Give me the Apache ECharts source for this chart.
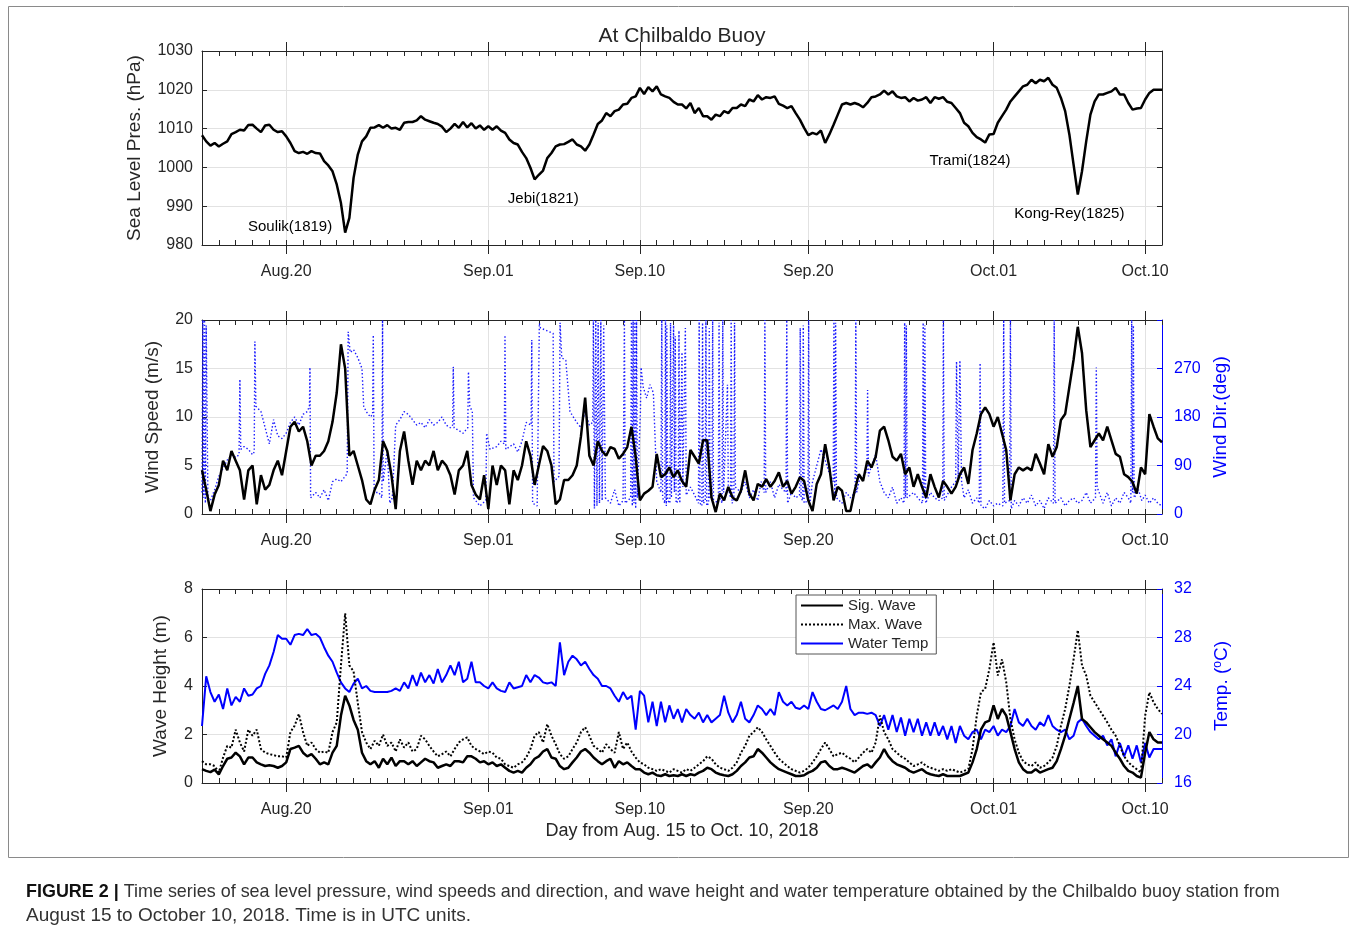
<!DOCTYPE html>
<html><head><meta charset="utf-8">
<script src="https://cdn.jsdelivr.net/npm/echarts@6/dist/echarts.min.js"></script>
<style>html,body{margin:0;padding:0;background:#fff}#c{width:1354px;height:934px}</style>
</head><body><div id="c"></div>
<script>
// ---- data (days since Aug 15 2018 00 UTC, one value every dayStep days) ----
const dayStep = 0.25;
const majorTickDays = [5, 17, 26, 36, 47, 56];
const majorTickLabels = ['Aug.20', 'Sep.01', 'Sep.10', 'Sep.20', 'Oct.01', 'Oct.10'];

const pressure = [
1008.3,1006.7,1005.6,1006.3,1005.4,1006.1,1006.7,1008.6,
1009.1,1009.7,1009.5,1010.9,1011.0,1010.0,1009.1,1010.8,
1011.0,1009.7,1009.1,1009.3,1008.0,1006.3,1004.2,1003.7,
1004.0,1003.5,1004.2,1003.7,1003.6,1001.6,1000.5,999.0,
995.6,990.8,983.2,987.0,997.3,1003.3,1006.7,1008.0,
1010.2,1010.3,1010.9,1010.2,1010.9,1010.0,1010.2,1009.7,
1011.5,1011.7,1011.7,1012.1,1013.2,1012.3,1011.9,1011.5,
1011.2,1010.5,1009.1,1010.0,1011.2,1010.2,1011.7,1010.3,
1011.4,1010.0,1010.8,1009.7,1010.6,1009.7,1010.6,1009.5,
1008.9,1007.2,1006.3,1005.9,1004.0,1002.4,999.9,996.9,
998.1,999.2,1002.4,1003.7,1005.4,1005.9,1006.0,1006.6,
1007.2,1005.9,1005.4,1004.3,1005.9,1008.5,1011.2,1012.1,
1014.0,1013.2,1014.5,1014.9,1016.2,1016.4,1017.9,1018.3,
1020.5,1018.9,1020.7,1019.6,1020.9,1018.8,1018.3,1017.9,
1016.9,1016.2,1016.2,1015.2,1016.6,1014.0,1015.3,1013.2,
1013.2,1012.3,1013.6,1013.2,1014.5,1014.0,1015.3,1015.3,
1016.2,1015.8,1017.5,1017.0,1018.6,1017.5,1018.1,1017.9,
1018.3,1016.4,1015.9,1015.3,1015.8,1014.0,1012.3,1010.2,
1008.3,1008.9,1008.5,1009.5,1006.3,1008.5,1011.0,1013.6,
1016.2,1016.6,1016.2,1016.6,1016.2,1015.5,1016.6,1018.1,
1018.3,1018.8,1019.8,1018.8,1019.6,1018.3,1017.9,1018.1,
1017.0,1017.9,1017.2,1017.5,1018.1,1016.6,1018.1,1017.7,
1018.1,1016.9,1016.6,1015.3,1014.0,1011.5,1010.6,1008.9,
1007.8,1007.2,1006.4,1008.5,1008.6,1011.5,1013.2,1014.9,
1017.0,1018.3,1019.6,1020.9,1021.3,1022.6,1021.7,1022.6,
1022.2,1023.1,1021.3,1020.5,1017.9,1014.5,1008.5,1000.7,
993.0,999.0,1006.7,1013.6,1017.0,1018.8,1018.8,1019.2,
1019.6,1020.5,1018.8,1018.8,1016.6,1014.9,1015.2,1015.3,
1017.5,1019.2,1020.0,1020.0,1020.0
];

const windSpeed = [
4.5,2.5,0.3,2.0,3.0,5.5,4.5,6.5,
5.5,4.5,1.5,4.5,5.0,1.0,4.0,2.5,
3.0,4.5,5.5,4.0,6.5,9.0,9.5,8.5,
9.0,7.5,5.0,6.0,6.0,6.5,7.5,9.5,
12.5,17.5,15.0,6.0,6.5,5.0,3.5,1.5,
1.0,2.5,3.5,7.5,6.5,4.0,0.5,6.5,
8.5,5.5,3.0,5.5,4.5,5.5,5.0,6.5,
4.5,5.5,5.0,4.0,2.0,4.5,5.0,6.5,
3.0,2.0,1.5,4.0,0.5,5.0,3.0,5.0,
4.5,1.0,4.5,3.5,5.0,7.5,6.0,3.0,
5.0,7.0,6.5,5.0,1.0,1.5,3.5,3.5,
4.0,5.0,8.0,12.0,6.0,5.0,7.5,6.5,
6.0,6.9,6.7,5.7,6.2,6.9,9.0,5.9,
1.4,2.1,2.4,2.8,6.2,3.8,4.1,4.8,
3.8,4.5,3.4,2.8,6.6,5.9,5.2,7.6,
7.6,1.7,0.2,2.1,1.4,2.8,1.7,1.4,
2.4,4.5,2.1,1.4,3.1,2.8,3.6,2.8,
3.4,4.3,2.8,3.4,2.1,2.8,3.8,3.4,
1.4,0.3,3.1,4.1,7.2,4.8,1.4,2.8,
2.4,0.3,0.3,2.4,4.1,3.4,5.5,4.8,
5.9,8.6,9.0,7.6,5.9,5.5,6.2,4.1,
4.8,2.8,4.1,2.8,1.7,4.1,2.8,1.7,
3.4,2.8,2.1,2.8,4.1,4.8,3.1,6.6,
8.3,10.3,11.0,10.3,9.0,10.0,8.3,6.6,
1.4,4.1,4.8,4.5,4.8,4.5,6.2,5.2,
4.1,7.2,5.9,6.9,9.7,10.3,13.1,15.9,
19.3,16.6,10.7,6.9,7.6,8.3,7.6,9.0,
7.6,6.2,5.9,4.1,3.8,3.3,2.1,4.8,
4.1,10.3,9.0,7.8,7.4
];

// wind direction readings: [day, degrees] (irregular times so the 0/360 wrap spikes stay thin)
const windDirReadings = [
[0.0,40],[0.05,360],[0.1,30],[0.15,360],[0.2,20],[0.25,350],[0.35,30],[0.5,25],[0.75,45],[1.0,70],
[1.25,85],[1.5,100],[1.75,110],[2.0,105],[2.2,110],[2.25,250],[2.3,120],[2.5,125],[2.75,120],[3.0,110],
[3.1,115],[3.14,320],[3.2,200],[3.5,190],[3.75,160],[4.0,130],[4.25,175],[4.5,145],[4.75,140],[5.0,150],
[5.25,170],[5.5,180],[5.75,165],[6.0,185],[6.25,190],[6.38,200],[6.41,272],[6.45,30],[6.75,40],[7.0,30],
[7.25,45],[7.5,25],[7.75,60],[8.0,65],[8.25,60],[8.5,70],[8.62,75],[8.68,338],[8.8,300],[9.0,305],
[9.25,290],[9.5,270],[9.6,200],[9.75,190],[10.0,180],[10.13,185],[10.17,332],[10.22,40],[10.5,40],[10.68,30],
[10.72,360],[10.76,60],[11.0,120],[11.15,20],[11.3,30],[11.5,165],[11.75,175],[12.0,190],[12.25,185],[12.5,175],
[12.75,165],[13.0,170],[13.25,160],[13.5,175],[13.75,165],[14.0,170],[14.25,180],[14.5,165],[14.75,160],[14.88,165],
[14.92,273],[14.97,160],[15.25,155],[15.5,150],[15.78,160],[15.82,264],[15.9,200],[16.05,190],[16.12,30],[16.5,15],
[16.85,25],[16.9,150],[17.1,120],[17.5,125],[17.75,135],[17.95,130],[17.99,332],[18.04,120],[18.5,130],[18.75,115],
[19.0,135],[19.25,170],[19.54,165],[19.58,323],[19.63,20],[19.9,15],[20.03,354],[20.1,345],[20.5,340],[20.85,335],
[20.9,60],[21.2,70],[21.26,355],[21.36,290],[21.6,285],[21.85,190],[22.25,170],[22.5,160],[22.75,190],[23.0,165],
[23.2,170],[23.24,360],[23.3,10],[23.38,360],[23.45,15],[23.52,355],[23.6,20],[23.68,360],[23.76,25],[23.85,350],
[23.95,30],[24.25,20],[24.5,45],[24.75,15],[25.0,25],[25.08,360],[25.13,20],[25.45,30],[25.5,360],[25.55,15],
[25.6,360],[25.65,20],[25.7,360],[25.75,10],[25.8,360],[25.85,30],[26.03,190],[26.07,272],[26.2,235],[26.4,215],
[26.6,240],[26.8,225],[27.0,60],[27.25,40],[27.3,360],[27.35,30],[27.48,20],[27.52,360],[27.57,15],[27.6,350],
[27.65,25],[27.78,20],[27.82,355],[27.87,30],[28.0,350],[28.05,40],[28.1,330],[28.15,20],[28.28,25],[28.32,340],
[28.37,20],[28.5,300],[28.55,50],[28.7,345],[28.75,35],[29.0,50],[29.25,35],[29.48,20],[29.52,360],[29.57,20],
[29.68,15],[29.72,355],[29.77,20],[29.88,25],[29.92,360],[29.97,15],[30.08,20],[30.12,345],[30.17,30],[30.28,25],
[30.32,360],[30.37,20],[30.66,25],[30.7,355],[30.75,30],[30.88,20],[30.92,360],[30.97,40],[31.2,240],[31.25,50],
[31.38,30],[31.42,360],[31.47,20],[31.58,25],[31.62,355],[31.67,50],[32.0,40],[32.25,60],[32.5,30],[32.75,45],
[33.0,25],[33.2,60],[33.38,40],[33.42,360],[33.47,40],[33.75,60],[34.0,30],[34.25,55],[34.5,45],[34.68,40],
[34.72,360],[34.77,20],[35.0,40],[35.25,30],[35.48,35],[35.52,345],[35.57,30],[35.66,25],[35.7,350],[35.75,20],
[35.98,25],[36.02,360],[36.07,15],[36.25,60],[36.5,90],[36.75,120],[37.0,100],[37.2,80],[37.48,60],[37.52,360],
[37.57,30],[37.62,355],[37.67,30],[38.0,20],[38.25,40],[38.5,30],[38.78,40],[38.82,360],[38.87,40],[39.0,60],
[39.25,70],[39.48,80],[39.52,230],[39.57,70],[39.75,90],[40.0,110],[40.25,60],[40.5,40],[40.75,30],[41.0,50],
[41.25,20],[41.5,30],[41.68,20],[41.72,355],[41.77,30],[41.82,350],[41.87,30],[42.25,40],[42.5,30],[42.78,20],
[42.82,355],[42.87,30],[42.92,350],[42.97,20],[43.25,40],[43.5,30],[43.75,25],[43.98,30],[44.02,360],[44.07,25],
[44.5,50],[44.75,60],[44.8,283],[44.9,60],[45.0,285],[45.1,60],[45.25,30],[45.5,45],[45.75,20],[46.0,30],
[46.15,20],[46.2,280],[46.25,15],[46.5,10],[46.75,25],[47.0,15],[47.25,20],[47.55,15],[47.6,360],[47.65,20],
[47.95,25],[48.0,360],[48.05,10],[48.25,25],[48.5,15],[48.75,30],[49.0,20],[49.25,35],[49.5,15],[49.75,25],
[50.0,10],[50.25,30],[50.55,20],[50.6,360],[50.65,20],[51.0,30],[51.25,15],[51.5,25],[51.75,30],[52.0,20],
[52.25,25],[52.5,40],[52.75,20],[53.05,30],[53.1,272],[53.15,50],[53.5,20],[53.75,40],[54.0,15],[54.25,30],
[54.5,20],[54.75,40],[55.0,30],[55.15,20],[55.2,360],[55.25,40],[55.3,350],[55.35,30],[55.6,45],[55.8,25],
[56.0,35],[56.25,20],[56.5,30],[56.75,20],[57.0,15]
];

const sigWave = [
0.57,0.5,0.45,0.55,0.35,0.7,1.0,1.05,
1.25,1.1,0.77,1.05,1.05,0.85,0.77,0.7,
0.73,0.7,0.63,0.7,0.85,1.4,1.46,1.53,
1.25,1.1,1.19,1.0,0.77,0.85,0.77,1.25,
1.53,2.78,3.6,3.2,2.6,2.2,1.25,0.9,
0.77,0.9,0.63,1.0,0.77,1.05,0.7,0.9,
0.9,0.77,0.9,0.7,0.85,1.0,0.9,0.85,
0.63,0.7,0.77,0.7,0.9,0.9,0.85,1.1,
1.1,1.0,0.85,0.9,0.77,0.85,0.7,0.77,
0.63,0.5,0.43,0.5,0.43,0.63,0.77,1.0,
1.1,1.3,1.4,1.05,1.0,0.7,0.57,0.63,
0.85,1.05,1.3,1.4,1.25,1.05,0.9,0.77,
0.9,1.0,0.63,0.9,0.77,0.85,0.7,0.57,
0.57,0.43,0.36,0.43,0.32,0.29,0.36,0.29,
0.32,0.29,0.36,0.29,0.36,0.32,0.43,0.5,
0.63,0.57,0.43,0.36,0.32,0.29,0.36,0.5,
0.7,0.85,1.05,1.1,1.4,1.25,1.05,0.85,
0.7,0.57,0.5,0.43,0.36,0.29,0.29,0.32,
0.43,0.5,0.63,0.85,0.9,0.7,0.57,0.57,
0.63,0.57,0.5,0.43,0.57,0.7,0.77,0.63,
0.85,1.05,1.4,1.1,0.9,0.77,0.7,0.63,
0.5,0.43,0.5,0.57,0.43,0.36,0.32,0.29,
0.36,0.29,0.29,0.29,0.29,0.36,0.43,0.85,
1.4,2.2,2.5,2.57,3.2,2.64,3.05,2.78,
2.1,1.4,0.85,0.57,0.43,0.43,0.57,0.43,
0.5,0.57,0.63,0.9,1.4,1.95,2.64,3.3,
4.0,2.64,2.5,2.3,2.1,1.95,1.8,1.67,
1.53,1.25,1.0,0.7,0.5,0.43,0.29,0.22,
1.25,2.1,1.8,1.67,1.67
];

const maxWave = [
0.9,0.77,0.77,0.7,0.43,1.05,1.53,1.46,
2.2,1.67,1.3,2.2,1.95,2.2,1.4,1.25,
1.19,1.15,1.1,1.1,1.05,2.1,2.36,2.85,
2.1,1.53,1.67,1.4,1.25,1.3,1.25,2.1,
2.5,4.85,7.0,4.85,4.6,3.3,2.1,1.67,
1.4,1.74,1.53,2.0,1.53,1.67,1.3,1.8,
1.46,1.67,1.3,1.4,1.95,1.8,1.53,1.3,
1.1,1.19,1.3,1.1,1.4,1.67,1.8,1.88,
1.53,1.4,1.3,1.19,1.3,1.25,1.05,1.0,
0.77,0.7,0.63,0.77,0.85,1.05,1.4,1.95,
2.1,1.67,2.43,1.95,1.6,1.19,1.0,1.1,
1.4,1.67,2.1,2.3,1.95,1.53,1.4,1.25,
1.6,1.4,1.25,2.1,1.4,1.67,1.3,1.05,
0.85,0.77,0.63,0.57,0.5,0.57,0.5,0.43,
0.57,0.5,0.43,0.57,0.5,0.63,0.77,0.9,
1.1,1.0,0.77,0.63,0.57,0.5,0.63,0.85,
1.25,1.53,1.95,2.1,2.3,2.1,1.8,1.53,
1.25,1.0,0.85,0.7,0.57,0.5,0.43,0.5,
0.63,0.85,1.1,1.4,1.67,1.4,1.1,1.19,
1.25,1.1,1.0,0.85,1.05,1.25,1.4,1.25,
1.67,2.78,2.1,1.8,1.4,1.25,1.1,1.0,
0.85,0.7,0.77,0.85,0.7,0.63,0.57,0.5,
0.57,0.5,0.57,0.5,0.43,0.5,0.57,1.4,
2.78,3.74,3.88,4.7,5.8,4.43,5.1,4.16,
2.64,1.8,1.25,0.9,0.77,0.7,0.85,0.63,
0.7,0.85,1.05,1.53,2.36,3.05,4.0,5.1,
6.3,4.85,4.43,3.6,3.33,3.05,2.78,2.5,
2.2,1.95,1.53,1.1,0.85,0.7,0.57,0.43,
2.78,3.74,3.33,3.05,2.85
];

const waterTemp = [
20.7,24.8,23.5,22.7,23.3,22.1,23.8,22.4,
23.1,22.7,23.8,23.2,23.3,23.8,24.0,25.0,
25.7,26.8,28.2,27.9,27.9,27.4,28.2,28.3,
28.2,28.7,28.2,28.3,28.0,27.2,26.5,26.0,
25.1,24.3,23.8,23.5,24.2,24.6,23.8,24.0,
23.6,23.5,23.5,23.5,23.5,23.6,23.8,23.6,
24.3,23.8,24.9,24.0,25.1,24.3,24.9,24.2,
25.4,24.3,24.9,25.7,24.9,26.0,24.3,24.6,
26.0,24.3,24.3,24.0,23.8,24.3,23.8,23.6,
23.5,24.3,23.8,23.9,24.0,24.9,24.3,24.9,
24.7,24.3,24.2,24.3,24.0,27.6,24.9,26.0,
26.5,26.2,25.7,26.0,25.4,24.9,24.6,24.0,
24.0,23.8,23.2,22.7,23.5,22.9,23.2,20.4,
23.6,23.2,21.0,22.7,20.7,22.7,21.0,22.4,
21.3,22.1,21.0,22.1,21.6,21.3,21.8,21.0,
21.6,21.0,21.3,21.6,23.2,21.8,21.0,21.6,
22.7,21.3,21.0,21.6,22.4,22.1,21.6,22.1,
21.6,23.5,22.7,22.4,22.7,22.2,22.1,22.4,
22.1,23.5,22.7,22.1,22.0,22.2,22.4,22.1,
22.7,24.0,22.1,21.6,21.8,21.8,21.7,21.8,
21.6,20.7,21.6,20.4,21.6,20.2,21.4,19.9,
21.3,20.2,21.3,19.9,21.0,19.9,21.0,19.9,
20.7,19.6,20.7,19.3,20.7,19.9,19.6,20.2,
20.4,19.6,20.4,20.2,20.7,19.9,20.4,20.2,
20.7,22.1,21.0,20.7,21.3,20.7,20.4,21.0,
20.7,21.6,20.7,20.4,20.2,20.4,19.6,19.9,
21.0,21.3,20.7,20.2,19.9,19.6,19.9,19.1,
19.6,18.2,19.3,18.2,19.1,18.0,19.1,17.7,
19.3,18.1,18.8,18.8,18.8
];

const typhoonLabels = ['Soulik(1819)', 'Jebi(1821)', 'Trami(1824)', 'Kong-Rey(1825)'];
const typhoonLabelDay = [5.23, 20.26, 45.6, 51.5];
const typhoonLabelHPa = [984.6, 991.9, 1001.6, 988.0];

// ---- styling / layout ----
const FONT = "'Liberation Sans', Arial, Helvetica, sans-serif";
const INK = '#262626';
const BLUE = '#0000ff';
const GRIDC = '#e2e2e2';
const X_MAX = 57;

function pairs(arr) { return arr.map((v, i) => [i * dayStep, v]); }
function dayLabel(v) {
  const i = majorTickDays.findIndex(d => Math.abs(d - v) < 1e-6);
  return i >= 0 ? majorTickLabels[i] : '';
}
function plain(v) { return String(v); }

function xAxesFor(g) {
  const base = { gridIndex: g, type: 'value', min: 0, max: X_MAX };
  const tickStyle = { color: INK, width: 1 };
  return [
    Object.assign({}, base, {
      position: 'bottom',
      axisLine: { show: true, onZero: false, lineStyle: { color: INK, width: 1 } },
      axisTick: { show: true, inside: false, length: 9, customValues: majorTickDays, lineStyle: tickStyle },
      axisLabel: { show: true, customValues: majorTickDays, formatter: dayLabel, fontSize: 16, color: INK, margin: 19, fontFamily: FONT },
      splitLine: { show: true, lineStyle: { color: GRIDC, width: 1 } }
    }),
    Object.assign({}, base, {
      position: 'bottom', interval: 1,
      axisLine: { show: false, onZero: false },
      axisTick: { show: true, inside: true, length: 5, lineStyle: tickStyle },
      axisLabel: { show: false }, splitLine: { show: false }
    }),
    Object.assign({}, base, {
      position: 'top',
      axisLine: { show: true, onZero: false, lineStyle: { color: INK, width: 1 } },
      axisTick: { show: true, inside: false, length: 9, customValues: majorTickDays, lineStyle: tickStyle },
      axisLabel: { show: false }, splitLine: { show: false }
    }),
    Object.assign({}, base, {
      position: 'top', interval: 1,
      axisLine: { show: false, onZero: false },
      axisTick: { show: true, inside: true, length: 5, lineStyle: tickStyle },
      axisLabel: { show: false }, splitLine: { show: false }
    })
  ];
}

function leftY(g, min, max, interval, name, gap) {
  return {
    gridIndex: g, type: 'value', min, max, interval, position: 'left',
    name, nameLocation: 'middle', nameGap: gap,
    nameTextStyle: { fontSize: 19, color: INK, fontFamily: FONT },
    axisLine: { show: true, onZero: false, lineStyle: { color: INK } },
    axisTick: { show: true, inside: true, length: 5, lineStyle: { color: INK } },
    axisLabel: { fontSize: 16, color: INK, margin: 9, fontFamily: FONT, formatter: plain },
    splitLine: { show: true, lineStyle: { color: GRIDC } }
  };
}
function rightY(g, min, max, interval, color, labels, name, gap, fmt, rich) {
  return {
    gridIndex: g, type: 'value', min, max, interval, position: 'right',
    name: name || '', nameLocation: 'middle', nameGap: gap || 40,
    nameTextStyle: { fontSize: 19, color: color, fontFamily: FONT, rich: rich || {} },
    axisLine: { show: true, onZero: false, lineStyle: { color } },
    axisTick: { show: true, inside: true, length: 5, lineStyle: { color } },
    axisLabel: { show: labels, fontSize: 16, color, margin: 12, fontFamily: FONT, formatter: fmt || plain },
    splitLine: { show: false }
  };
}

const gridTops = [51, 320, 589];
const gridH = 194;

const option = {
  animation: false,
  backgroundColor: '#fff',
  grid: gridTops.map(t => ({ left: 202, top: t, width: 960, height: gridH, containLabel: false })),
  xAxis: [].concat(xAxesFor(0), xAxesFor(1), xAxesFor(2)),
  yAxis: [
    leftY(0, 980, 1030, 10, 'Sea Level Pres. (hPa)', 58),
    rightY(0, 980, 1030, 10, INK, false),
    leftY(1, 0, 20, 5, 'Wind Speed (m/s)', 40),
    rightY(1, 0, 360, 90, BLUE, true, 'Wind Dir.(deg)', 49, v => (v >= 360 ? '' : String(v))),
    leftY(2, 0, 8, 2, 'Wave Height (m)', 32),
    rightY(2, 16, 32, 4, BLUE, true, 'Temp. ({sup|o}C)', 50, plain,
      { sup: { fontSize: 12, color: BLUE, fontFamily: FONT, verticalAlign: 'top', padding: [0, 0, 8, 0] } })
  ],
  legend: {
    data: ['Sig. Wave', 'Max. Wave', 'Water Temp'],
    orient: 'vertical', left: 796, top: 595,
    itemWidth: 42, itemHeight: 12, itemGap: 4,
    itemStyle: { opacity: 0, color: 'rgba(0,0,0,0)', borderWidth: 0 },
    textStyle: { fontSize: 15, color: INK, fontFamily: FONT },
    backgroundColor: '#fff', borderColor: '#555', borderWidth: 1,
    padding: [3, 8, 3, 4]
  },
  graphic: [
    { type: 'rect', silent: true, shape: { x: 8.5, y: 6.5, width: 1340, height: 851 },
      style: { fill: 'none', stroke: '#8a8a8a', lineWidth: 1 }, z: -10 },
    { type: 'text', x: 682, y: 26, style: { text: 'At Chilbaldo Buoy', fontSize: 21, fill: INK, fontFamily: FONT, textAlign: 'center' } },
    { type: 'text', x: 682, y: 822, style: { text: 'Day from Aug. 15 to Oct. 10, 2018', fontSize: 18, fill: INK, fontFamily: FONT, textAlign: 'center' } },
    { type: 'text', x: 26, y: 882, scaleX: 0.944, style: {
        text: '{b|FIGURE 2 |} Time series of sea level pressure, wind speeds and direction, and wave height and water temperature obtained by the Chilbaldo buoy station from',
        fontSize: 19, fill: '#333', fontFamily: FONT,
        rich: { b: { fontWeight: 'bold', fontSize: 19, fill: '#111', fontFamily: FONT } } } },
    { type: 'text', x: 26, y: 906, style: { text: 'August 15 to October 10, 2018. Time is in UTC units.', fontSize: 19, fill: '#333', fontFamily: FONT } }
  ],
  series: [
    { name: 'Pressure', type: 'line', xAxisIndex: 0, yAxisIndex: 0, data: pairs(pressure), symbol: 'none',
      lineStyle: { color: '#000', width: 2.5 }, z: 3,
      markPoint: {
        symbol: 'rect', symbolSize: 1, itemStyle: { color: 'rgba(0,0,0,0)' },
        label: { show: true, position: 'inside', formatter: p => p.name, color: '#000', fontSize: 15, fontFamily: FONT },
        data: typhoonLabels.map((t, i) => ({ name: t, coord: [typhoonLabelDay[i], typhoonLabelHPa[i]] }))
      } },
    { name: 'Wind Dir', type: 'line', xAxisIndex: 4, yAxisIndex: 3, data: windDirReadings, symbol: 'none',
      lineStyle: { color: '#1a1aff', width: 1.4, type: [1.4, 2.2] }, z: 2 },
    { name: 'Wind Speed', type: 'line', xAxisIndex: 4, yAxisIndex: 2, data: pairs(windSpeed), symbol: 'none',
      lineStyle: { color: '#000', width: 2.5 }, z: 3 },
    { name: 'Water Temp', type: 'line', xAxisIndex: 8, yAxisIndex: 5, data: pairs(waterTemp), symbol: 'none',
      itemStyle: { color: BLUE }, lineStyle: { color: BLUE, width: 2 }, z: 2 },
    { name: 'Max. Wave', type: 'line', xAxisIndex: 8, yAxisIndex: 4, data: pairs(maxWave), symbol: 'none',
      itemStyle: { color: '#000' }, lineStyle: { color: '#000', width: 2, type: [2, 2] }, z: 3 },
    { name: 'Sig. Wave', type: 'line', xAxisIndex: 8, yAxisIndex: 4, data: pairs(sigWave), symbol: 'none',
      itemStyle: { color: '#000' }, lineStyle: { color: '#000', width: 2.5 }, z: 3 }
  ]
};

const chart = echarts.init(document.getElementById('c'), null, { renderer: 'canvas' });
chart.setOption(option);
</script>
</body></html>
